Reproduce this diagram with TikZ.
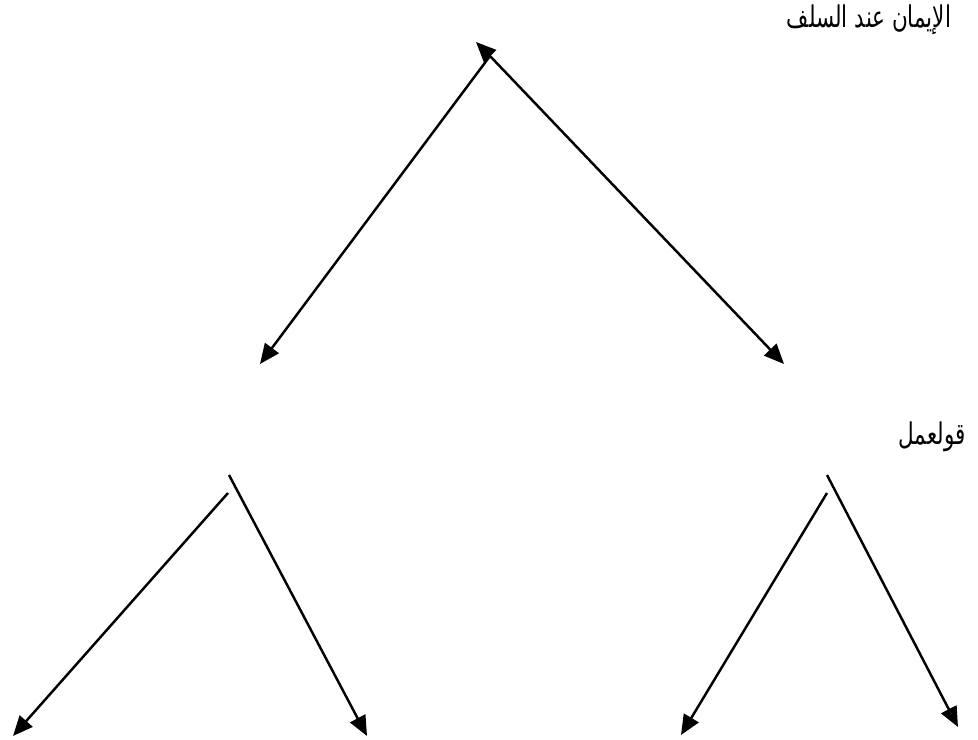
\documentclass[tikz,border=0pt]{standalone}
\usepackage{fontspec}
\newfontfamily\arabicfont[Script=Arabic]{DejaVu Sans}
\TeXXeTstate=1
\usetikzlibrary{arrows.meta,positioning}

\begin{document}
\begin{tikzpicture}[
    x=0.02cm, y=-0.02cm,
    label/.style={font=\arabicfont\fontsize{17}{19}\selectfont, inner sep=0pt, xscale=0.72},
    arrow/.style={-{Triangle[length=0.4cm, width=0.34cm]}, line width=1.4pt}
]
\useasboundingbox (0,0) rectangle (978,740);

% Headings
\node[label] (root) at (869,20) {\beginR الإيمان عند السلف\endR};
\node[label] (mid) at (932,437) {\beginR قولعمل\endR};

% Top level
\coordinate (top) at (490,56);
\coordinate (topTip) at (476,42);
\coordinate (leftEnd) at (260,364);
\coordinate (rightEnd) at (784,364);
\draw[arrow] (top) -- (topTip);
\draw[arrow] (top) -- (leftEnd);
\draw[arrow] (top) -- (rightEnd);

% Left branch
\coordinate (lTopA) at (229,475);
\coordinate (lTopB) at (228,493);
\coordinate (llEnd) at (13,736);
\coordinate (lrEnd) at (367,736);
\draw[arrow] (lTopB) -- (llEnd);
\draw[arrow] (lTopA) -- (lrEnd);

% Right branch
\coordinate (rTopA) at (827,475);
\coordinate (rTopB) at (827,493);
\coordinate (rlEnd) at (681,735);
\coordinate (rrEnd) at (958,727);
\draw[arrow] (rTopB) -- (rlEnd);
\draw[arrow] (rTopA) -- (rrEnd);
\end{tikzpicture}
\end{document}
